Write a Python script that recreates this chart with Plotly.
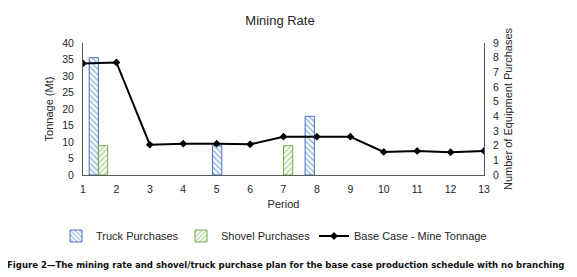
import plotly.graph_objects as go

periods = [1, 2, 3, 4, 5, 6, 7, 8, 9, 10, 11, 12, 13]
mine_tonnage = [33.8, 34.1, 9.2, 9.5, 9.5, 9.3, 11.6, 11.6, 11.6, 7.0, 7.3, 6.9, 7.3]
truck_purchases = [8, 0, 0, 0, 2, 0, 0, 4, 0, 0, 0, 0, 0]
shovel_purchases = [2, 0, 0, 0, 0, 0, 2, 0, 0, 0, 0, 0, 0]

FONT = "Arial, Liberation Sans, sans-serif"
TXT = "#262626"
BLUE = "#4472C4"
GREEN = "#70AD47"

# the page body adds an 8px offset; figure is sized to compensate
W, H = 569, 269
ML, MR, MT = 75, 93, 35
PH = 132
MB = H - MT - PH


def nz(vals):
    return [v if v else None for v in vals]


def px_x(fx):
    return (fx - 8 - ML) / (W - ML - MR)


def px_y(fy):
    return (MT + PH - (fy - 8)) / PH


fig = go.Figure()
fig.add_trace(go.Bar(
    x=periods, y=nz(truck_purchases), name="Truck Purchases",
    xaxis="x", yaxis="y", legend="legend",
    marker=dict(color="white", line=dict(color=BLUE, width=1),
                pattern=dict(shape="\\", fgcolor=BLUE, bgcolor="white", size=4, solidity=0.4)),
))
fig.add_trace(go.Bar(
    x=periods, y=nz(shovel_purchases), name="Shovel Purchases",
    xaxis="x", yaxis="y", legend="legend2",
    marker=dict(color="white", line=dict(color=GREEN, width=1),
                pattern=dict(shape="/", fgcolor=GREEN, bgcolor="white", size=4, solidity=0.4)),
))
fig.add_trace(go.Scatter(
    x=periods, y=mine_tonnage, name="Base Case - Mine Tonnage",
    xaxis="x2", yaxis="y2", mode="lines+markers", legend="legend3",
    line=dict(color="black", width=2),
    marker=dict(symbol="diamond", size=6, color="black"),
))

leg = dict(orientation="h", xanchor="left", yanchor="middle", y=px_y(236),
           font=dict(size=11, color=TXT), bgcolor="rgba(0,0,0,0)", itemwidth=30)

fig.update_layout(
    width=W, height=H,
    margin=dict(l=ML, r=MR, t=MT, b=MB, autoexpand=False),
    paper_bgcolor="white", plot_bgcolor="white",
    font=dict(family=FONT, size=10.5, color=TXT),
    barmode="group", bargap=0.4, bargroupgap=0,
    title=dict(text="Mining Rate", x=px_x(280), xref="paper", xanchor="center",
               y=1 - (20 - 8) / H, yref="container", yanchor="middle",
               font=dict(size=13, color=TXT)),
    showlegend=True,
    legend=dict(leg, x=px_x(98 - 42)),
    legend2=dict(leg, x=px_x(223 - 42)),
    legend3=dict(leg, x=px_x(356 - 42)),
    xaxis=dict(range=[0.5, 13.5], visible=False, fixedrange=True),
    yaxis=dict(range=[0, 9], dtick=1, side="right", showgrid=False, zeroline=False,
               showline=True, linecolor="#595959", linewidth=1, ticks="",
               title=dict(text="Number of Equipment Purchases", font=dict(size=11, color=TXT), standoff=6),
               ticklabelstandoff=6),
    xaxis2=dict(range=[1, 13], tickvals=periods, overlaying="x", anchor="y2", side="bottom",
                showgrid=False, zeroline=False, showline=True, linecolor="#595959", linewidth=1,
                ticks="", ticklabelstandoff=4,
                title=dict(text="Period", font=dict(size=11, color=TXT), standoff=6)),
    yaxis2=dict(range=[0, 40], dtick=5, overlaying="y", side="left", anchor="x2",
                showgrid=False, zeroline=False, showline=True, linecolor="#595959", linewidth=1,
                ticks="", ticklabelstandoff=6,
                title=dict(text="Tonnage (Mt)", font=dict(size=11, color=TXT), standoff=6)),
    annotations=[dict(
        text="<b>Figure 2\u2014The mining rate and shovel/truck purchase plan for the base case production schedule with no branching</b>",
        xref="paper", yref="paper", x=px_x(286), y=px_y(264), xanchor="center", yanchor="middle",
        showarrow=False,
        font=dict(family="Liberation Sans Narrow, Arial Narrow, DejaVu Sans Condensed, sans-serif",
                  size=9.5, color="#111"),
    )],
)

fig.write_html("out.html")
